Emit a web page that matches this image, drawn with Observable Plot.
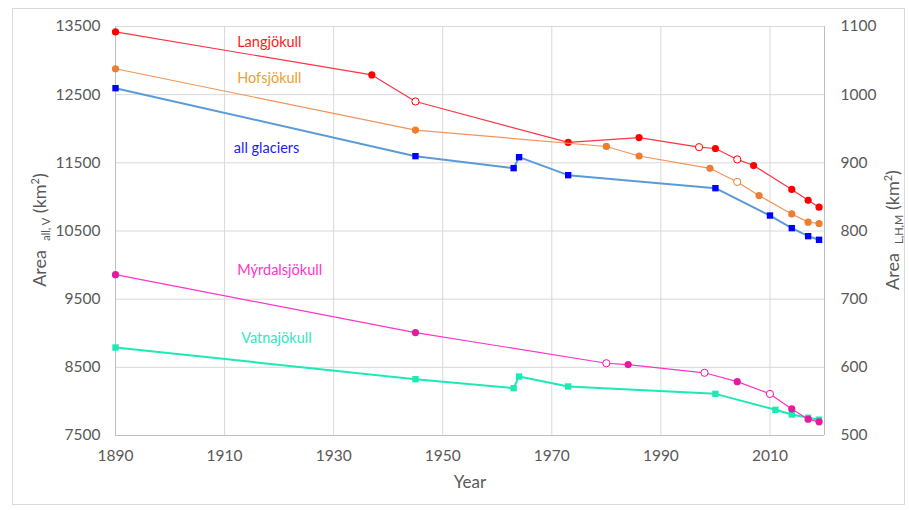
<!DOCTYPE html>
<html>
<head>
<meta charset="utf-8">
<script src="https://cdn.jsdelivr.net/npm/d3@7"></script>
<script src="https://cdn.jsdelivr.net/npm/@observablehq/plot@0.6"></script>
<style>
  html, body { margin: 0; padding: 0; background: #fff; }
  #wrap { position: relative; width: 909px; height: 510px; }
  #frame { position: absolute; left: 12px; top: 8px; width: 893px; height: 497px; border: 1px solid #d9d9d9; box-sizing: border-box; pointer-events: none; }
</style>
</head>
<body>
<div id="wrap"><div id="frame"></div></div>
<script>
// ---- data (years; left-axis series in km², right-axis series in km²) ----
const allYears = [1890, 1945, 1963, 1964, 1973, 2000, 2010, 2014, 2017, 2019];
const allArea  = [12595, 11598, 11422, 11583, 11319, 11128, 10727, 10542, 10424, 10371];

const vatYears = [1890, 1945, 1963, 1964, 1973, 2000, 2011, 2014, 2017, 2019];
const vatArea  = [8791, 8326, 8194, 8365, 8219, 8111, 7877, 7808, 7760, 7732];

const langYears = [1890, 1937, 1945, 1973, 1986, 1997, 2000, 2004, 2007, 2014, 2017, 2019];
const langArea  = [1092, 1029, 990, 930, 937, 923, 921, 905, 896, 861, 845, 835];
const langOpen  = [false, false, true, false, false, true, false, true, false, false, false, false];

const hofYears = [1890, 1945, 1980, 1986, 1999, 2004, 2008, 2014, 2017, 2019];
const hofArea  = [1038, 948, 924, 910, 892, 872, 852, 825, 813, 811];
const hofOpen  = [false, false, false, false, false, true, false, false, false, false];

const myrYears = [1890, 1945, 1980, 1984, 1998, 2004, 2010, 2014, 2017, 2019];
const myrArea  = [736, 651, 606, 604, 592, 579, 561, 539, 524, 520];
const myrOpen  = [false, false, true, false, true, false, true, false, false, false];

const leftTicks  = [7500, 8500, 9500, 10500, 11500, 12500, 13500];
const rightTicks = [500, 600, 700, 800, 900, 1000, 1100];
const xTicks     = [1890, 1910, 1930, 1950, 1970, 1990, 2010];

const labelNames = ["Langjökull", "Hofsjökull", "all glaciers", "Mýrdalsjökull", "Vatnajökull"];
const labelYears = [1918.2, 1918.2, 1917.7, 1920.1, 1919.5];
const labelVals  = [13270, 12742, 11715, 9920, 8927];   // in left-axis units
const labelColors = ["#ff1a1a", "#f0a030", "#1a1aff", "#ff33cc", "#33e6c0"];

// right-axis values map onto left-axis units: left = right*10 + 2500
const toLeft = r => r * 10 + 2500;

const zip = (xs, ys, extra) => xs.map((x, i) => ({x, y: ys[i], open: extra ? extra[i] : false}));
const allD  = zip(allYears, allArea);
const vatD  = zip(vatYears, vatArea);
const langD = zip(langYears, langArea, langOpen);
const hofD  = zip(hofYears, hofArea, hofOpen);
const myrD  = zip(myrYears, myrArea, myrOpen);
const labels = labelNames.map((t, i) => ({t, x: labelYears[i], y: labelVals[i], c: labelColors[i]}));

const font = "Lato, 'Open Sans', sans-serif";

function circles(data, color) {
  return [
    Plot.dot(data.filter(d => !d.open), {x: "x", y: d => toLeft(d.y), r: 3.6, fill: color, stroke: "none"}),
    Plot.dot(data.filter(d => d.open), {x: "x", y: d => toLeft(d.y), r: 3.6, fill: "white", stroke: color, strokeWidth: 1})
  ];
}

const chart = Plot.plot({
  width: 909,
  height: 510,
  marginLeft: 115,
  marginRight: 85,
  marginTop: 26,
  marginBottom: 75,
  style: {fontFamily: font, background: "transparent", overflow: "visible"},
  x: {domain: [1890, 2020]},
  y: {domain: [7500, 13500]},
  marks: [
    Plot.gridY(leftTicks, {stroke: "#d9d9d9", strokeOpacity: 1}),
    Plot.gridX(xTicks, {stroke: "#d9d9d9", strokeOpacity: 1}),
    Plot.ruleX([1890, 2020], {stroke: "#bfbfbf"}),
    Plot.ruleY([7500], {stroke: "#bfbfbf"}),
    Plot.axisY(leftTicks, {anchor: "left", tickSize: 0, tickPadding: 15, fontSize: 15.5, fill: "#595959", label: null, tickFormat: d => String(d)}),
    Plot.axisY(rightTicks.map(toLeft), {anchor: "right", tickSize: 0, tickPadding: 16, fontSize: 15.5, fill: "#595959", label: null, tickFormat: d => String((d - 2500) / 10)}),
    Plot.axisX(xTicks, {anchor: "bottom", tickSize: 0, tickPadding: 14, fontSize: 15.5, fill: "#595959", label: null, tickFormat: d => String(d)}),
    // all glaciers
    Plot.line(allD, {x: "x", y: "y", stroke: "#5b9bd5", strokeWidth: 2}),
    Plot.dot(allD, {x: "x", y: "y", symbol: "square", r: 3.6, fill: "#0000ff"}),
    // Vatnajökull
    Plot.line(vatD, {x: "x", y: "y", stroke: "#1de9b6", strokeWidth: 2}),
    Plot.dot(vatD, {x: "x", y: "y", symbol: "square", r: 3.6, fill: "#1de9b6"}),
    // Langjökull
    Plot.line(langD, {x: "x", y: d => toLeft(d.y), stroke: "#ff3344", strokeWidth: 1.2}),
    ...circles(langD, "#ff0000"),
    // Hofsjökull
    Plot.line(hofD, {x: "x", y: d => toLeft(d.y), stroke: "#f0955a", strokeWidth: 1.2}),
    ...circles(hofD, "#ed7d31"),
    // Mýrdalsjökull
    Plot.line(myrD, {x: "x", y: d => toLeft(d.y), stroke: "#ff33cc", strokeWidth: 1.2}),
    ...circles(myrD, "#e619a0"),
    // series labels
    Plot.text(labels, {x: "x", y: "y", text: "t", fill: "c", fontSize: 14.5, textAnchor: "middle"}),
    // x axis title
    Plot.text(["Year"], {frameAnchor: "bottom", dy: 52, fontSize: 17, fill: "#595959"})
  ]
});

document.getElementById("wrap").appendChild(chart);

// axis titles with sub/superscripts
const svg = d3.select(chart);
function title(x, y, sub) {
  const t = svg.append("text")
    .attr("transform", `translate(${x},${y}) rotate(-90)`)
    .attr("text-anchor", "middle")
    .attr("fill", "#595959")
    .attr("font-family", font)
    .attr("font-size", 18)
    .style("white-space", "pre");
  t.append("tspan").text("Area\u00a0\u00a0");
  t.append("tspan").attr("font-size", 11).attr("dy", 4).text(sub);
  t.append("tspan").attr("dy", -4).text("\u00a0(km");
  t.append("tspan").attr("font-size", 11).attr("dy", -7).text("2");
  t.append("tspan").attr("dy", 7).text(")");
}
title(46, 230, "all, V");
title(899, 230, "L,H,M");
</script>
</body>
</html>
